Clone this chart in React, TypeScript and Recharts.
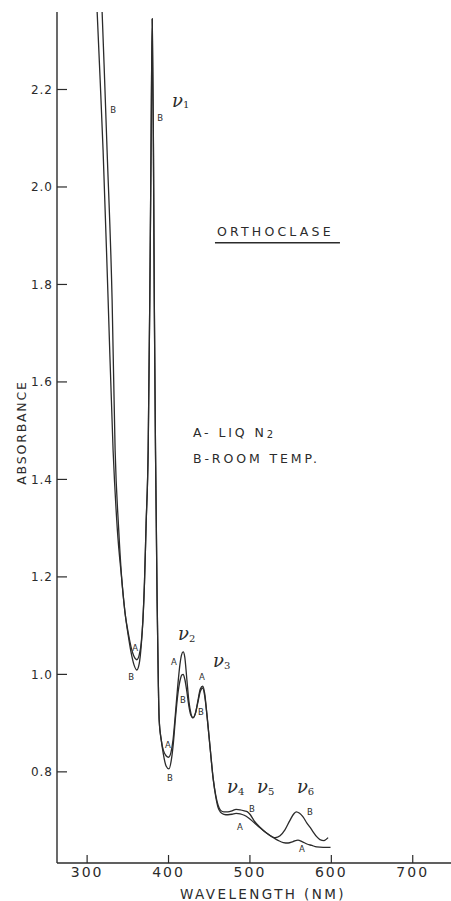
import React from 'react'
import { LineChart, Line, XAxis, YAxis, ReferenceDot } from 'recharts'

// wavelength (nm) / absorbance, curve A = liquid N2
const wavelengthA = [
  309.5, 312.3, 316, 319.6, 325.8, 331.9, 337, 342.6, 346.6, 350.5, 354, 357.5, 361, 364, 366.5,
  368.5, 370.5, 372.5, 375, 377, 378.5, 380, 381.5, 382.5, 384, 386, 387.5, 388.5, 391, 393.5,
  397, 400, 403, 405.5, 408, 411, 414, 416, 418, 420, 422.5, 425, 427.5, 430, 433, 436, 439, 442,
  444.5, 447, 451, 455, 458, 461, 464, 468, 473, 478, 483, 488, 493, 498, 505, 512, 520, 527,
  535, 541, 547, 553, 559, 564, 570, 576, 582, 590, 599,
]
const absorbanceA = [
  2.46, 2.36, 2.22, 2.076, 1.768, 1.46, 1.3, 1.194, 1.126, 1.085, 1.056, 1.037, 1.03, 1.04, 1.065,
  1.11, 1.19, 1.31, 1.46, 1.77, 2.07, 2.345, 2.07, 1.77, 1.46, 1.15, 0.98, 0.907, 0.866, 0.845,
  0.833, 0.83, 0.84, 0.865, 0.91, 0.97, 1.02, 1.04, 1.046, 1.035, 0.99, 0.945, 0.92, 0.911, 0.92,
  0.945, 0.97, 0.976, 0.96, 0.92, 0.851, 0.784, 0.749, 0.726, 0.717, 0.713, 0.712, 0.713, 0.715,
  0.714, 0.711, 0.706, 0.696, 0.686, 0.675, 0.667, 0.659, 0.655, 0.654, 0.657, 0.66, 0.657, 0.652,
  0.649, 0.646, 0.645, 0.645,
]

// curve B = room temperature
const wavelengthB = [
  315.5, 318.4, 321.5, 324.5, 330.7, 334.4, 338.7, 342.6, 346.6, 350.5, 354, 357.5, 361, 364, 366.5,
  368.5, 370.5, 372.5, 375, 377, 378.5, 380, 381.5, 382.5, 384, 386, 387.5, 388.5, 391, 393.5,
  397, 400.5, 403.5, 406, 408.5, 411.5, 414.5, 416.5, 418, 420, 422.5, 425, 427.5, 430, 433, 436,
  439, 442, 444.5, 447, 451, 455, 458, 461, 464, 468, 473, 478, 483, 488, 493, 497, 500, 505, 512,
  520, 527, 531, 537, 543, 549, 554, 557, 561, 565, 570, 574, 578, 582, 586, 591, 596,
]
const absorbanceB = [
  2.46, 2.36, 2.22, 2.076, 1.768, 1.46, 1.3, 1.194, 1.126, 1.08, 1.045, 1.02, 1.009, 1.022, 1.06,
  1.11, 1.19, 1.31, 1.46, 1.77, 2.07, 2.345, 2.07, 1.77, 1.46, 1.15, 0.98, 0.907, 0.866, 0.838,
  0.812, 0.806, 0.825, 0.86, 0.91, 0.96, 0.99, 0.999, 1.0, 0.99, 0.965, 0.935, 0.916, 0.911, 0.92,
  0.942, 0.965, 0.972, 0.955, 0.92, 0.851, 0.784, 0.752, 0.731, 0.721, 0.718, 0.718, 0.72, 0.723,
  0.722, 0.72, 0.718, 0.713, 0.7, 0.687, 0.675, 0.667, 0.665, 0.669, 0.681, 0.7, 0.714, 0.718,
  0.715, 0.708, 0.695, 0.686, 0.676, 0.667, 0.661, 0.659, 0.665,
]

const xTicks = [300, 400, 500, 600, 700]
const yTicks = [0.8, 1.0, 1.2, 1.4, 1.6, 1.8, 2.0, 2.2]

// text written on the plot, placed in data units
const notes = [
  { w: 331.9, v: 2.158, kind: 'letter', text: 'B' },
  { w: 389.6, v: 2.142, kind: 'letter', text: 'B' },
  { w: 404.3, v: 2.178, kind: 'nu', text: '1' },
  { w: 459.5, v: 1.908, kind: 'title', text: 'ORTHOCLASE' },
  { w: 430, v: 1.497, kind: 'n2', text: 'A- LIQ N' },
  { w: 430, v: 1.442, kind: 'text', text: 'B-ROOM TEMP.' },
  { w: 411.7, v: 1.083, kind: 'nu', text: '2' },
  { w: 454.6, v: 1.028, kind: 'nu', text: '3' },
  { w: 471.8, v: 0.769, kind: 'nu', text: '4' },
  { w: 508.6, v: 0.769, kind: 'nu', text: '5' },
  { w: 557.7, v: 0.769, kind: 'nu', text: '6' },
  { w: 358.9, v: 1.054, kind: 'letter', text: 'A' },
  { w: 354, v: 0.995, kind: 'letter', text: 'B' },
  { w: 399.4, v: 0.855, kind: 'letter', text: 'A' },
  { w: 401.8, v: 0.788, kind: 'letter', text: 'B' },
  { w: 406.7, v: 1.026, kind: 'letter', text: 'A' },
  { w: 417.8, v: 0.948, kind: 'letter', text: 'B' },
  { w: 441.1, v: 0.995, kind: 'letter', text: 'A' },
  { w: 439.9, v: 0.923, kind: 'letter', text: 'B' },
  { w: 502.5, v: 0.724, kind: 'letter', text: 'B' },
  { w: 487.7, v: 0.687, kind: 'letter', text: 'A' },
  { w: 573.6, v: 0.718, kind: 'letter', text: 'B' },
  { w: 563.8, v: 0.642, kind: 'letter', text: 'A' },
]

const seriesA = wavelengthA.map((w, i) => ({ w, v: absorbanceA[i] }))
const seriesB = wavelengthB.map((w, i) => ({ w, v: absorbanceB[i] }))

const ink = '#2b2b2b'
const sans = 'DejaVu Sans'

function Note({ cx, cy, note }: any) {
  if (note.kind === 'letter') {
    return (
      <text x={cx} y={cy} textAnchor="middle" dominantBaseline="central" fontFamily={sans} fontSize={8.5} fill={ink}>
        {note.text}
      </text>
    )
  }
  if (note.kind === 'nu') {
    return (
      <text x={cx} y={cy} dominantBaseline="central" fontFamily="DejaVu Serif" fontStyle="italic" fontSize={18} fill={ink}>
        ν<tspan fontSize={10} dy={4} fontStyle="normal">{note.text}</tspan>
      </text>
    )
  }
  if (note.kind === 'title') {
    return (
      <g>
        <text x={cx} y={cy} dominantBaseline="central" fontFamily={sans} fontSize={12.5} letterSpacing={3.2} fill={ink}>
          {note.text}
        </text>
        <line x1={cx - 2} x2={cx + 123} y1={cy + 11} y2={cy + 11} stroke={ink} strokeWidth={1.4} />
      </g>
    )
  }
  return (
    <text x={cx} y={cy} dominantBaseline="central" fontFamily={sans} fontSize={12.5} letterSpacing={2.9} fill={ink}>
      {note.text}
      {note.kind === 'n2' && <tspan fontSize={10} dy={2}>2</tspan>}
    </text>
  )
}

export default function App() {
  const tickStyle = { fontSize: 14, fill: ink, fontFamily: sans, letterSpacing: 2 }

  return (
    <div style={{ width: 451, height: 901, background: '#fff' }}>
      <style>{'body{margin:0}'}</style>
      <LineChart width={451} height={901} margin={{ top: 12, right: 0, left: 0, bottom: 0 }}>
        <XAxis
          dataKey="w"
          type="number"
          domain={[263, 747]}
          ticks={xTicks}
          allowDataOverflow
          height={38}
          tickSize={-8}
          tickMargin={12}
          tick={tickStyle}
          axisLine={{ stroke: ink, strokeWidth: 1.4 }}
          tickLine={{ stroke: ink, strokeWidth: 1.2 }}
          label={{
            content: ({ viewBox }: any) => (
              <text
                x={viewBox.x + viewBox.width / 2 + 9}
                y={viewBox.y + 31}
                textAnchor="middle"
                dominantBaseline="central"
                fontFamily={sans}
                fontSize={13.5}
                letterSpacing={2.4}
                fill={ink}
              >
                WAVELENGTH (NM)
              </text>
            ),
          }}
        />
        <XAxis
          xAxisId="top"
          orientation="top"
          type="number"
          domain={[263, 747]}
          ticks={xTicks}
          allowDataOverflow
          height={0}
          tickSize={-7}
          tick={false}
          axisLine={{ stroke: ink, strokeWidth: 1.4 }}
          tickLine={{ stroke: ink, strokeWidth: 1.2 }}
        />
        <YAxis
          type="number"
          domain={[0.613, 2.359]}
          ticks={yTicks}
          allowDataOverflow
          width={57}
          tickSize={-10}
          tickMargin={14}
          tick={{ ...tickStyle, fontSize: 12, letterSpacing: 1 }}
          tickFormatter={(v: number) => v.toFixed(1)}
          axisLine={{ stroke: ink, strokeWidth: 1.4 }}
          tickLine={{ stroke: ink, strokeWidth: 1.2 }}
          label={{
            content: ({ viewBox }: any) => (
              <text
                x={21}
                y={viewBox.y + viewBox.height / 2 - 5}
                transform={`rotate(-90 21 ${viewBox.y + viewBox.height / 2 - 5})`}
                textAnchor="middle"
                dominantBaseline="central"
                fontFamily={sans}
                fontSize={12.5}
                letterSpacing={1.8}
                fill={ink}
              >
                ABSORBANCE
              </text>
            ),
          }}
        />
        <YAxis
          yAxisId="right"
          orientation="right"
          type="number"
          domain={[0.613, 2.359]}
          ticks={yTicks}
          allowDataOverflow
          width={0}
          tickSize={-6}
          tick={false}
          axisLine={{ stroke: ink, strokeWidth: 1.4 }}
          tickLine={{ stroke: ink, strokeWidth: 1.2 }}
        />
        <Line
          data={seriesA}
          dataKey="v"
          type="monotone"
          stroke={ink}
          strokeWidth={1.3}
          dot={false}
          isAnimationActive={false}
        />
        <Line
          data={seriesB}
          dataKey="v"
          type="monotone"
          stroke={ink}
          strokeWidth={1.3}
          dot={false}
          isAnimationActive={false}
        />
        {notes.map((n, i) => (
          <ReferenceDot
            key={i}
            x={n.w}
            y={n.v}
            r={0}
            ifOverflow="visible"
            shape={(p: any) => <Note {...p} note={n} />}
          />
        ))}
      </LineChart>
    </div>
  )
}
